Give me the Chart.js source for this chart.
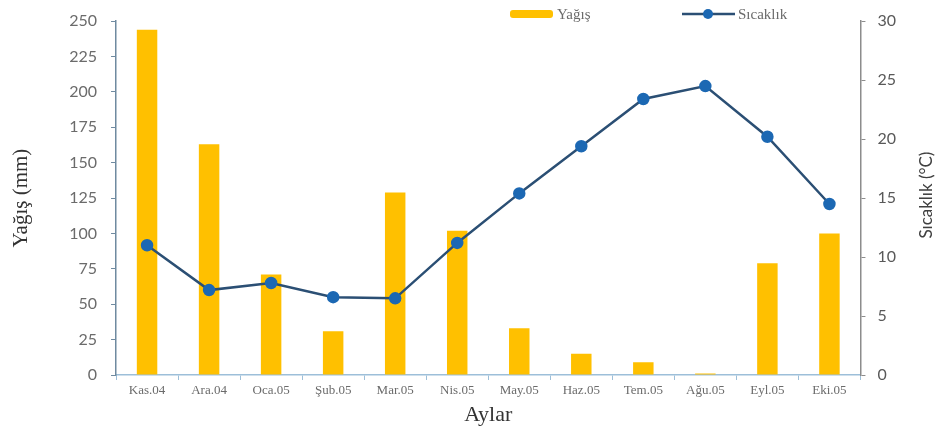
<!DOCTYPE html>
<html lang="tr">
<head>
<meta charset="utf-8">
<title>Yağış ve Sıcaklık</title>
<script src="https://cdn.jsdelivr.net/npm/chart.js@4.4.1/dist/chart.umd.min.js"></script>
<style>
    html, body { margin: 0; padding: 0; background: #ffffff; }
    #kutu { width: 938px; height: 432px; position: relative; }
</style>
</head>
<body>
<div id="kutu"><canvas id="grafik"></canvas></div>
<script>
// Aylık değerler
var aylar = ['Kas.04', 'Ara.04', 'Oca.05', 'Şub.05', 'Mar.05', 'Nis.05', 'May.05', 'Haz.05', 'Tem.05', 'Ağu.05', 'Eyl.05', 'Eki.05'];
var yagis = [244, 163, 71, 31, 129, 102, 33, 15, 9, 1, 79, 100];
var sicaklik = [11.0, 7.2, 7.8, 6.6, 6.5, 11.2, 15.4, 19.4, 23.4, 24.5, 20.2, 14.5];

var renkYagis = '#ffc000',
    renkCizgi = '#2b4f74',
    renkNokta = '#1c68b3',
    serif = '"Liberation Serif", "DejaVu Serif", serif',
    sans = 'Lato, "Open Sans", sans-serif';

/**
 * Üstteki açıklama kutusunu ve sağ eksen başlığını çizer
 * (sağ başlık aşağıdan yukarı okunsun diye elle çiziliyor)
 */
var aciklama = {
    id: 'aciklama',
    afterDraw: function(chart) {
        var ctx = chart.ctx,
            y = 14,
            alan = chart.chartArea;
        ctx.save();
        ctx.font = '15px ' + serif;
        ctx.textBaseline = 'middle';

        // yağış
        ctx.fillStyle = renkYagis;
        ctx.beginPath();
        ctx.roundRect(510, y - 4, 43, 8, 3);
        ctx.fill();
        ctx.fillStyle = '#6b6b6b';
        ctx.fillText(chart.data.datasets[0].label, 557, y + 1);

        // sıcaklık
        ctx.strokeStyle = renkCizgi;
        ctx.lineWidth = 2.5;
        ctx.beginPath();
        ctx.moveTo(682, y);
        ctx.lineTo(735, y);
        ctx.stroke();
        ctx.fillStyle = renkNokta;
        ctx.beginPath();
        ctx.arc(708, y, 5, 0, Math.PI * 2);
        ctx.fill();
        ctx.fillStyle = '#6b6b6b';
        ctx.fillText(chart.data.datasets[1].label, 738, y + 1);

        // sağ eksen başlığı
        ctx.translate(927, (alan.top + alan.bottom) / 2 - 3);
        ctx.rotate(-Math.PI / 2);
        ctx.font = '17px ' + sans;
        ctx.fillStyle = '#404040';
        ctx.textAlign = 'center';
        ctx.fillText('Sıcaklık (°C)', 0, 0);
        ctx.restore();
    }
};

var grafik = new Chart(document.getElementById('grafik'), {
    type: 'bar',
    data: {
        labels: aylar,
        datasets: [{
            type: 'bar',
            label: 'Yağış',
            data: yagis,
            backgroundColor: renkYagis,
            borderWidth: 0,
            categoryPercentage: 1,
            barPercentage: 0.33,
            yAxisID: 'y',
            order: 2
        }, {
            type: 'line',
            label: 'Sıcaklık',
            data: sicaklik,
            borderColor: renkCizgi,
            borderWidth: 2.5,
            pointBackgroundColor: renkNokta,
            pointBorderColor: renkNokta,
            pointRadius: 5,
            tension: 0,
            yAxisID: 'y1',
            order: 1
        }]
    },
    options: {
        responsive: true,
        maintainAspectRatio: false,
        animation: false,
        layout: {
            padding: { top: 5, right: 30, left: 9, bottom: 4 }
        },
        plugins: {
            legend: { display: false },
            tooltip: { enabled: false }
        },
        scales: {
            x: {
                grid: {
                    drawOnChartArea: false,
                    color: '#9dbfd9',
                    tickLength: 5
                },
                border: { color: '#9dbfd9', width: 1.5 },
                ticks: {
                    color: '#6b6b6b',
                    font: { family: serif, size: 13 },
                    padding: 3,
                    maxRotation: 0
                },
                title: {
                    display: true,
                    text: 'Aylar',
                    color: '#333333',
                    font: { family: serif, size: 22 },
                    padding: { top: 0, bottom: 0 }
                }
            },
            y: {
                position: 'left',
                min: 0,
                max: 250,
                ticks: {
                    stepSize: 25,
                    color: '#6b6b6b',
                    font: { family: sans, size: 16, lineHeight: 0.9 },
                    padding: 14
                },
                grid: {
                    drawOnChartArea: false,
                    color: '#6f8aa0',
                    tickLength: 5
                },
                border: { color: '#6f8aa0', width: 1.5 },
                title: {
                    display: true,
                    text: 'Yağış (mm)',
                    color: '#333333',
                    font: { family: serif, size: 21 },
                    padding: { top: 0, bottom: 21 }
                }
            },
            y1: {
                position: 'right',
                min: 0,
                max: 30,
                ticks: {
                    stepSize: 5,
                    color: '#595959',
                    font: { family: sans, size: 16, lineHeight: 0.9 },
                    padding: 12
                },
                grid: {
                    drawOnChartArea: false,
                    color: '#8c8c8c',
                    tickLength: 5
                },
                border: { color: '#8c8c8c', width: 1.5 }
            }
        }
    },
    plugins: [aciklama]
});
</script>
</body>
</html>
